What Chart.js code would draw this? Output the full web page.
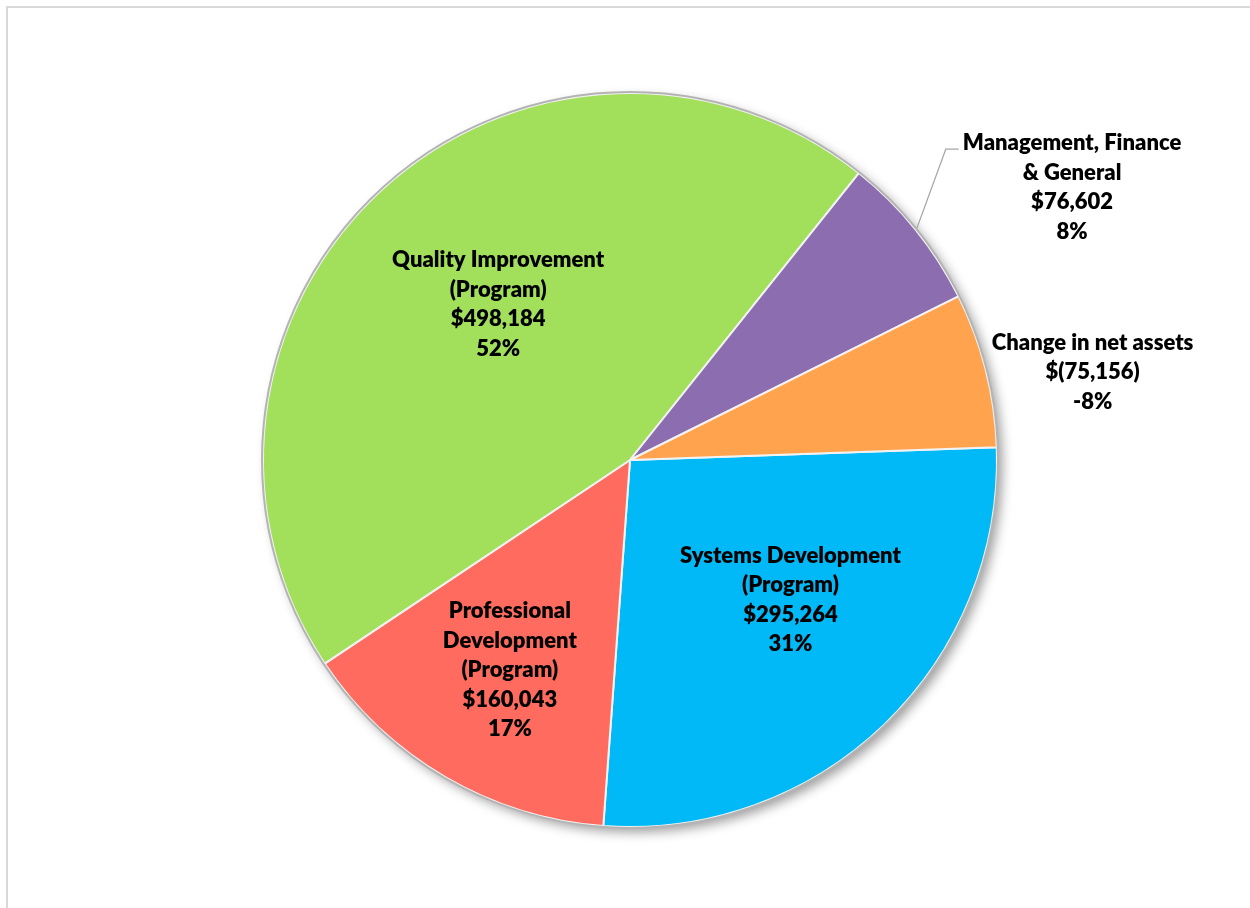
<!DOCTYPE html>
<html>
<head>
<meta charset="utf-8">
<script src="https://cdn.jsdelivr.net/npm/chart.js@4.4.0/dist/chart.umd.min.js"></script>
<style>
    html, body { margin: 0; padding: 0; background: #fff; overflow: hidden; }
    #frame { position: absolute; left: 6px; top: 6px; width: 1300px; height: 960px;
             border-left: 2px solid #d9d9d9; border-top: 2px solid #d9d9d9; }
    #graph_pie { position: absolute; left: 0; top: 0; }
</style>
</head>
<body>
<div id="frame"></div>
<canvas id="graph_pie" width="1250" height="908"></canvas>
<script>
// slices, clockwise from 3 o'clock
var categories = [
    ["Systems Development", "(Program)"],
    ["Professional", "Development", "(Program)"],
    ["Quality Improvement", "(Program)"],
    ["Management, Finance", "& General"],
    ["Change in net assets"]
];
var amounts = [295264, 160043, 498184, 76602, -75156];
var colors = ["#00B9F6", "#FF6C5F", "#A2DF5B", "#8C6DAF", "#FFA34F"];

// label placement: fraction of radius, angle nudge in degrees
var labelPlace = [[0.58, -5], [0.66, -0.5], [0.556, 2.3], [1.415, 7.3], [1.283, 3.5]];

function money(v)
{
    var s = Math.abs(v).toString().replace(/\B(?=(\d{3})+(?!\d))/g, ",");
    return v < 0 ? "$(" + s + ")" : "$" + s;
}

var revenue = 0;
for (i = 0; i < amounts.length; i++) {
    revenue += amounts[i];
}

var pieShadow = {
    id: "pieShadow",
    beforeDatasetsDraw: function(chart) {
        var arc = chart.getDatasetMeta(0).data[0];
        var ctx = chart.ctx;
        ctx.save();
        ctx.shadowColor = "rgba(0,0,0,0.4)";
        ctx.shadowBlur = 12;
        ctx.shadowOffsetX = 5;
        ctx.shadowOffsetY = 5;
        ctx.fillStyle = "#fff";
        ctx.beginPath();
        ctx.arc(arc.x, arc.y, arc.outerRadius, 0, Math.PI * 2);
        ctx.fill();
        ctx.restore();
    },
    afterDatasetsDraw: function(chart) {
        var ctx = chart.ctx;
        var meta = chart.getDatasetMeta(0);
        var arc0 = meta.data[0];

        // grey rim
        ctx.save();
        ctx.strokeStyle = "#b4b4b4";
        ctx.lineWidth = 2;
        ctx.beginPath();
        ctx.arc(arc0.x, arc0.y, arc0.outerRadius + 1, 0, Math.PI * 2);
        ctx.stroke();

        ctx.font = "800 22px Lato, 'Open Sans', sans-serif";
        ctx.fillStyle = "#000";
        ctx.textAlign = "center";
        ctx.textBaseline = "middle";
        var lineH = 29.5;

        meta.data.forEach(function(arc, i) {
            var mid = (arc.startAngle + arc.endAngle) / 2;
            var a = mid + labelPlace[i][1] * Math.PI / 180;
            var r = arc.outerRadius * labelPlace[i][0];
            var cx = arc.x + Math.cos(a) * r;
            var cy = arc.y + Math.sin(a) * r;

            var lines = categories[i].slice();
            lines.push(money(amounts[i]));
            lines.push(Math.round(amounts[i] / revenue * 100) + "%");

            var top = cy - (lines.length - 1) * lineH / 2;
            for (j = 0; j < lines.length; j++) {
                ctx.fillText(lines[j], cx, top + j * lineH);
            }

            // leader line for the small outside label
            if (i == 3) {
                var w = ctx.measureText(lines[0]).width;
                var sx = arc.x + Math.cos(mid) * (arc.outerRadius + 2);
                var sy = arc.y + Math.sin(mid) * (arc.outerRadius + 2);
                var ex = cx - w / 2 - 4;
                ctx.strokeStyle = "#a6a6a6";
                ctx.lineWidth = 1.2;
                ctx.beginPath();
                ctx.moveTo(sx, sy);
                ctx.lineTo(ex - 13, top + 6);
                ctx.lineTo(ex, top + 6);
                ctx.stroke();
            }
        });
        ctx.restore();
    }
};

var ctx_pie = document.getElementById("graph_pie").getContext("2d");

var myPie = new Chart(ctx_pie, {
    type: "pie",
    data: {
        labels: categories,
        datasets: [{
            data: amounts,
            backgroundColor: colors,
            borderColor: "#f2f2f2",
            borderWidth: 2,
            radius: 367
        }]
    },
    options: {
        responsive: false,
        animation: false,
        devicePixelRatio: 1,
        rotation: 88,
        layout: { padding: { left: 10, right: 0, top: 12, bottom: 0 } },
        plugins: {
            legend: { display: false },
            tooltip: { enabled: false }
        }
    },
    plugins: [pieShadow]
});
</script>
</body>
</html>
